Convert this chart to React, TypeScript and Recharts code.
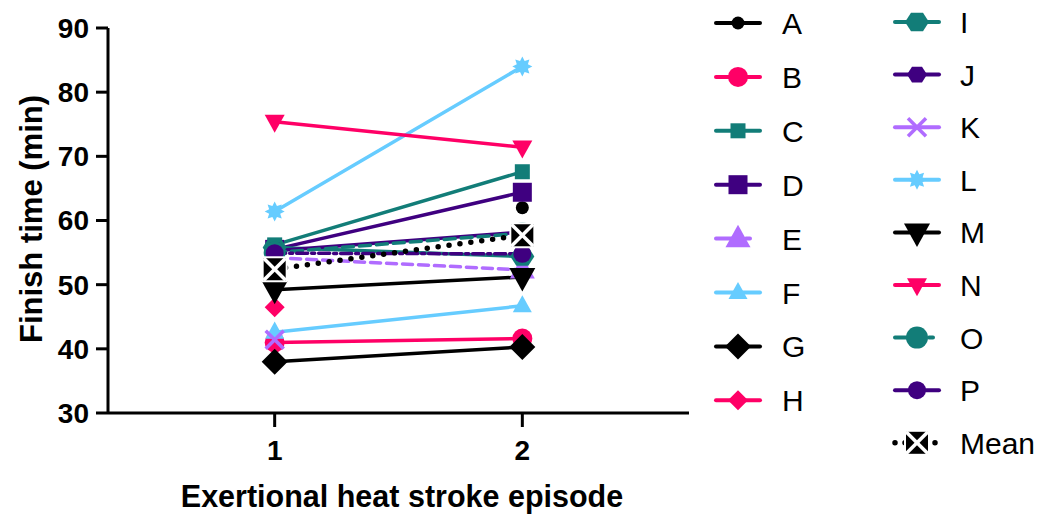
import { LineChart, Line, XAxis, YAxis } from "recharts";

const episodes = [1, 2];
const yTicks = [30, 40, 50, 60, 70, 80, 90];

// finish time (min) at episode 1 and 2, null = no value
const valuesA = [null, 62.0];
const valuesB = [41.0, 41.6];
const valuesC = [56.2, 67.6];
const valuesD = [55.5, 64.4];
const valuesE = [54.2, 52.3];
const valuesF = [42.6, 46.7];
const valuesG = [38.0, 40.3];
const valuesH = [46.5, null];
const valuesI = [55.8, 54.4];
const valuesJ = [55.3, 58.2];
const valuesK = [41.4, null];
const valuesL = [61.4, 84.0];
const valuesM = [49.2, 51.2];
const valuesN = [75.4, 71.4];
const valuesO = [55.0, 58.0];
const valuesP = [54.9, 54.8];
const valuesMean = [52.4, 57.7];

const seriesNames = ["A", "B", "C", "D", "E", "F", "G", "H", "I", "J", "K", "L", "M", "N", "O", "P", "Mean"];
const seriesValues = [
  valuesA, valuesB, valuesC, valuesD, valuesE, valuesF, valuesG, valuesH,
  valuesI, valuesJ, valuesK, valuesL, valuesM, valuesN, valuesO, valuesP, valuesMean,
];

const BLACK = "#000000";
const PINK = "#ff0066";
const TEAL = "#127d78";
const PURPLE = "#3f0080";
const LILAC = "#b06cff";
const SKY = "#66ccff";

type Style = { color: string; shape: string; size: number; dash?: string; legendDash?: string; width?: number };

const STYLES: Record<string, Style> = {
  A: { color: BLACK, shape: "circle", size: 6.5 },
  B: { color: PINK, shape: "circle", size: 10 },
  C: { color: TEAL, shape: "square", size: 15 },
  D: { color: PURPLE, shape: "square", size: 19 },
  E: { color: LILAC, shape: "triangle", size: 25, dash: "10 6", legendDash: "24 6 4 10" },
  F: { color: SKY, shape: "triangle", size: 19 },
  G: { color: BLACK, shape: "diamond", size: 26 },
  H: { color: PINK, shape: "diamond", size: 20 },
  I: { color: TEAL, shape: "hexagon", size: 12 },
  J: { color: PURPLE, shape: "hexagon", size: 10 },
  K: { color: LILAC, shape: "cross", size: 9 },
  L: { color: SKY, shape: "star", size: 10 },
  M: { color: BLACK, shape: "triangleDown", size: 26 },
  N: { color: PINK, shape: "triangleDown", size: 20 },
  O: { color: TEAL, shape: "circle", size: 11, dash: "11 6", legendDash: "28 6 4 10" },
  P: { color: PURPLE, shape: "circle", size: 9, dash: "11 4 3 4" },
  Mean: { color: BLACK, shape: "mean", size: 11, dash: "0 11", legendDash: "0 10", width: 5.5 },
};

const rows = episodes.map((ep, i) => {
  const row: Record<string, number | null> = { episode: ep };
  seriesNames.forEach((name, s) => {
    row[name] = seriesValues[s][i];
  });
  return row;
});

const FONT = "'Liberation Sans', Arial, sans-serif";

function Marker({ shape, color, size, cx, cy }: { shape: string; color: string; size: number; cx: number; cy: number }) {
  const s = size;
  switch (shape) {
    case "circle":
      return <circle cx={cx} cy={cy} r={s} fill={color} />;
    case "square":
      return <rect x={cx - s / 2} y={cy - s / 2} width={s} height={s} fill={color} />;
    case "triangle": {
      const h = s * 0.9;
      return <polygon points={`${cx},${cy - h * 0.62} ${cx + s / 2},${cy + h * 0.38} ${cx - s / 2},${cy + h * 0.38}`} fill={color} />;
    }
    case "triangleDown": {
      const h = s * 0.9;
      return <polygon points={`${cx},${cy + h * 0.62} ${cx + s / 2},${cy - h * 0.38} ${cx - s / 2},${cy - h * 0.38}`} fill={color} />;
    }
    case "diamond":
      return <polygon points={`${cx},${cy - s / 2} ${cx + s / 2},${cy} ${cx},${cy + s / 2} ${cx - s / 2},${cy}`} fill={color} />;
    case "hexagon": {
      const pts = [0, 60, 120, 180, 240, 300]
        .map((a) => `${cx + s * Math.cos((a * Math.PI) / 180)},${cy + s * 0.9 * Math.sin((a * Math.PI) / 180)}`)
        .join(" ");
      return <polygon points={pts} fill={color} />;
    }
    case "cross":
      return (
        <g stroke={color} strokeWidth={3.5}>
          <line x1={cx - s} y1={cy - s} x2={cx + s} y2={cy + s} />
          <line x1={cx - s} y1={cy + s} x2={cx + s} y2={cy - s} />
        </g>
      );
    case "star": {
      const pts: string[] = [];
      for (let k = 0; k < 16; k++) {
        const r = k % 2 === 0 ? s : s * 0.6;
        const a = (k * Math.PI) / 8;
        pts.push(`${cx + r * Math.cos(a)},${cy + r * Math.sin(a)}`);
      }
      return <polygon points={pts.join(" ")} fill={color} />;
    }
    case "mean":
      return (
        <g>
          <rect x={cx - s - 2} y={cy - s - 2} width={2 * s + 4} height={2 * s + 4} fill="#ffffff" />
          <rect x={cx - s} y={cy - s} width={2 * s} height={2 * s} fill={color} />
          <g stroke="#ffffff" strokeWidth={3.5}>
            <line x1={cx - s} y1={cy - s} x2={cx + s} y2={cy + s} />
            <line x1={cx - s} y1={cy + s} x2={cx + s} y2={cy - s} />
          </g>
        </g>
      );
    default:
      return null;
  }
}

const makeDot = (name: string) => (props: any) => {
  const st = STYLES[name];
  if (props.cy == null || props.cx == null || props.value == null) {
    return <g key={`${name}-${props.index}`} />;
  }
  return (
    <g key={`${name}-${props.index}`}>
      <Marker shape={st.shape} color={st.color} size={st.size} cx={props.cx} cy={props.cy} />
    </g>
  );
};

const YTitle = () => (
  <text
    x={42}
    y={219}
    transform="rotate(-90, 42, 219)"
    textAnchor="middle"
    fontFamily={FONT}
    fontWeight="bold"
    fontSize={31}
    fill="#000"
  >
    Finish time (min)
  </text>
);

const XTitle = () => (
  <text x={402} y={507} textAnchor="middle" fontFamily={FONT} fontWeight="bold" fontSize={30.5} fill="#000">
    Exertional heat stroke episode
  </text>
);

const col1 = seriesNames.slice(0, 8);
const col2 = seriesNames.slice(8);

const ChartLegend = () => (
  <svg width={1043} height={518} style={{ position: "absolute", left: 0, top: 0, pointerEvents: "none" }}>
    {col1.map((name, i) => {
      const st = STYLES[name];
      const y = 23 + i * 53.9;
      return (
        <g key={name}>
          <line x1={716} x2={760} y1={y} y2={y} stroke={st.color} strokeWidth={4} strokeDasharray={st.legendDash} strokeLinecap="round" />
          <Marker shape={st.shape} color={st.color} size={st.size} cx={738} cy={y} />
          <text x={782} y={y + 11} fontFamily={FONT} fontSize={30} fill="#000">{name}</text>
        </g>
      );
    })}
    {col2.map((name, i) => {
      const st = STYLES[name];
      const y = 22 + i * 52.6;
      return (
        <g key={name}>
          <line x1={895} x2={939} y1={y} y2={y} stroke={st.color} strokeWidth={st.width ?? 4} strokeDasharray={st.legendDash} strokeLinecap="round" />
          <Marker shape={st.shape} color={st.color} size={st.size} cx={917} cy={y} />
          <text x={960} y={y + 11} fontFamily={FONT} fontSize={30} fill="#000">{name}</text>
        </g>
      );
    })}
  </svg>
);

export default function App() {
  return (
    <div style={{ position: "absolute", left: 0, top: 0, width: 1043, height: 518, background: "#fff" }}>
      <LineChart width={1043} height={518} data={rows} margin={{ top: 28, right: 354, bottom: 0, left: 0 }}>
        <XAxis
          dataKey="episode"
          type="number"
          domain={[0.327, 2.673]}
          ticks={episodes}
          allowDataOverflow
          height={105}
          tickSize={14}
          tickMargin={13}
          axisLine={{ stroke: "#000", strokeWidth: 3 }}
          tickLine={{ stroke: "#000", strokeWidth: 3 }}
          tick={{ fill: "#000", fontSize: 28, fontWeight: "bold", fontFamily: FONT }}
          label={<XTitle />}
        />
        <YAxis
          type="number"
          domain={[30, 90]}
          ticks={yTicks}
          width={108}
          tickSize={12}
          tickMargin={7}
          axisLine={{ stroke: "#000", strokeWidth: 3 }}
          tickLine={{ stroke: "#000", strokeWidth: 3 }}
          tick={{ fill: "#000", fontSize: 28, fontWeight: "bold", fontFamily: FONT }}
          label={<YTitle />}
        />
        {seriesNames.map((name) => {
          const st = STYLES[name];
          return (
            <Line
              key={name}
              dataKey={name}
              stroke={st.color}
              strokeWidth={st.width ?? 3.5}
              strokeDasharray={st.dash}
              strokeLinecap="round"
              dot={makeDot(name)}
              activeDot={false}
              isAnimationActive={false}
            />
          );
        })}
      </LineChart>
      <ChartLegend />
    </div>
  );
}
